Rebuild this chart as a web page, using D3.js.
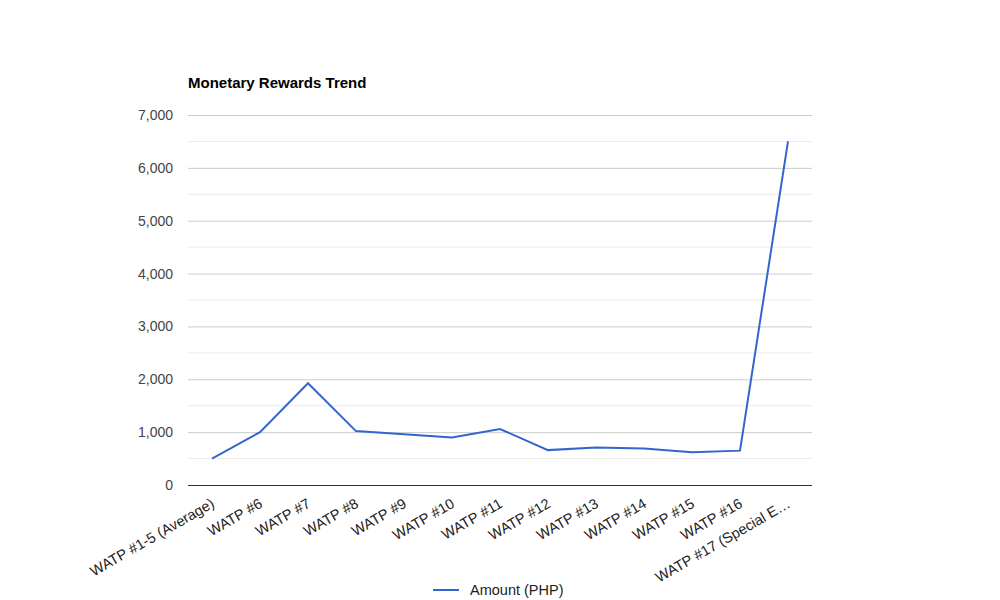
<!DOCTYPE html>
<html>
<head>
<meta charset="utf-8">
<script src="https://cdn.jsdelivr.net/npm/d3@7"></script>
<style>
    body { margin: 0; background: #fff; }
    text { font-family: Arial, "Liberation Sans", sans-serif; }
</style>
</head>
<body>
<script>
// Chart data.
var categories = ["WATP #1-5 (Average)", "WATP #6", "WATP #7", "WATP #8", "WATP #9", "WATP #10",
    "WATP #11", "WATP #12", "WATP #13", "WATP #14", "WATP #15", "WATP #16", "WATP #17 (Special E\u2026"];
var amounts = [500, 1000, 1925, 1020, 960, 900, 1060, 660, 710, 690, 620, 650, 6500];
var yTicks = [0, 1000, 2000, 3000, 4000, 5000, 6000, 7000];
var seriesName = "Amount (PHP)";

var width = 1000, height = 600;
var plotLeft = 188, plotRight = 812, plotTop = 115, plotBottom = 485;

var svg = d3.select("body").append("svg")
    .attr("width", width)
    .attr("height", height);

var x = d3.scaleBand().domain(categories).range([plotLeft, plotRight]);
var y = d3.scaleLinear().domain([0, 7000]).range([plotBottom, plotTop]);

// Minor gridlines at the half steps.
svg.append("g")
    .selectAll("line")
    .data(d3.range(500, 7000, 1000))
    .join("line")
    .attr("x1", plotLeft).attr("x2", plotRight)
    .attr("y1", d => y(d)).attr("y2", d => y(d))
    .attr("stroke", "#ebebeb");

// Major gridlines and y labels.
var yAxis = svg.append("g")
    .attr("transform", "translate(" + plotLeft + ",0)")
    .call(d3.axisLeft(y).tickValues(yTicks).tickSize(-(plotRight - plotLeft)).tickPadding(15)
        .tickFormat(d3.format(",")));
yAxis.select(".domain").remove();
yAxis.selectAll(".tick line").attr("stroke", d => d === 0 ? "#333" : "#ccc");
yAxis.selectAll(".tick text")
    .attr("fill", "#444")
    .style("font-size", "14px");

// X labels, rotated.
svg.append("g")
    .selectAll("text")
    .data(categories)
    .join("text")
    .attr("transform", d => "translate(" + (x(d) + x.bandwidth() / 2 - 2) + ",497) rotate(-30)")
    .attr("text-anchor", "end")
    .attr("dy", "0.75em")
    .attr("fill", "#222")
    .style("font-size", "14.5px")
    .text(d => d);

// The line.
var line = d3.line()
    .x((d, i) => x(categories[i]) + x.bandwidth() / 2)
    .y(d => y(d));

svg.append("path")
    .datum(amounts)
    .attr("d", line)
    .attr("fill", "none")
    .attr("stroke", "#3366cc")
    .attr("stroke-width", 2);

// Title.
svg.append("text")
    .attr("x", plotLeft)
    .attr("y", 88)
    .attr("font-weight", "bold")
    .attr("fill", "#000")
    .style("font-size", "15px")
    .text("Monetary Rewards Trend");

// Legend.
var legend = svg.append("g");
legend.append("line")
    .attr("x1", 433).attr("x2", 459)
    .attr("y1", 590).attr("y2", 590)
    .attr("stroke", "#3366cc")
    .attr("stroke-width", 2);
legend.append("text")
    .attr("x", 470)
    .attr("y", 595)
    .attr("fill", "#222")
    .style("font-size", "14.5px")
    .text(seriesName);
</script>
</body>
</html>
